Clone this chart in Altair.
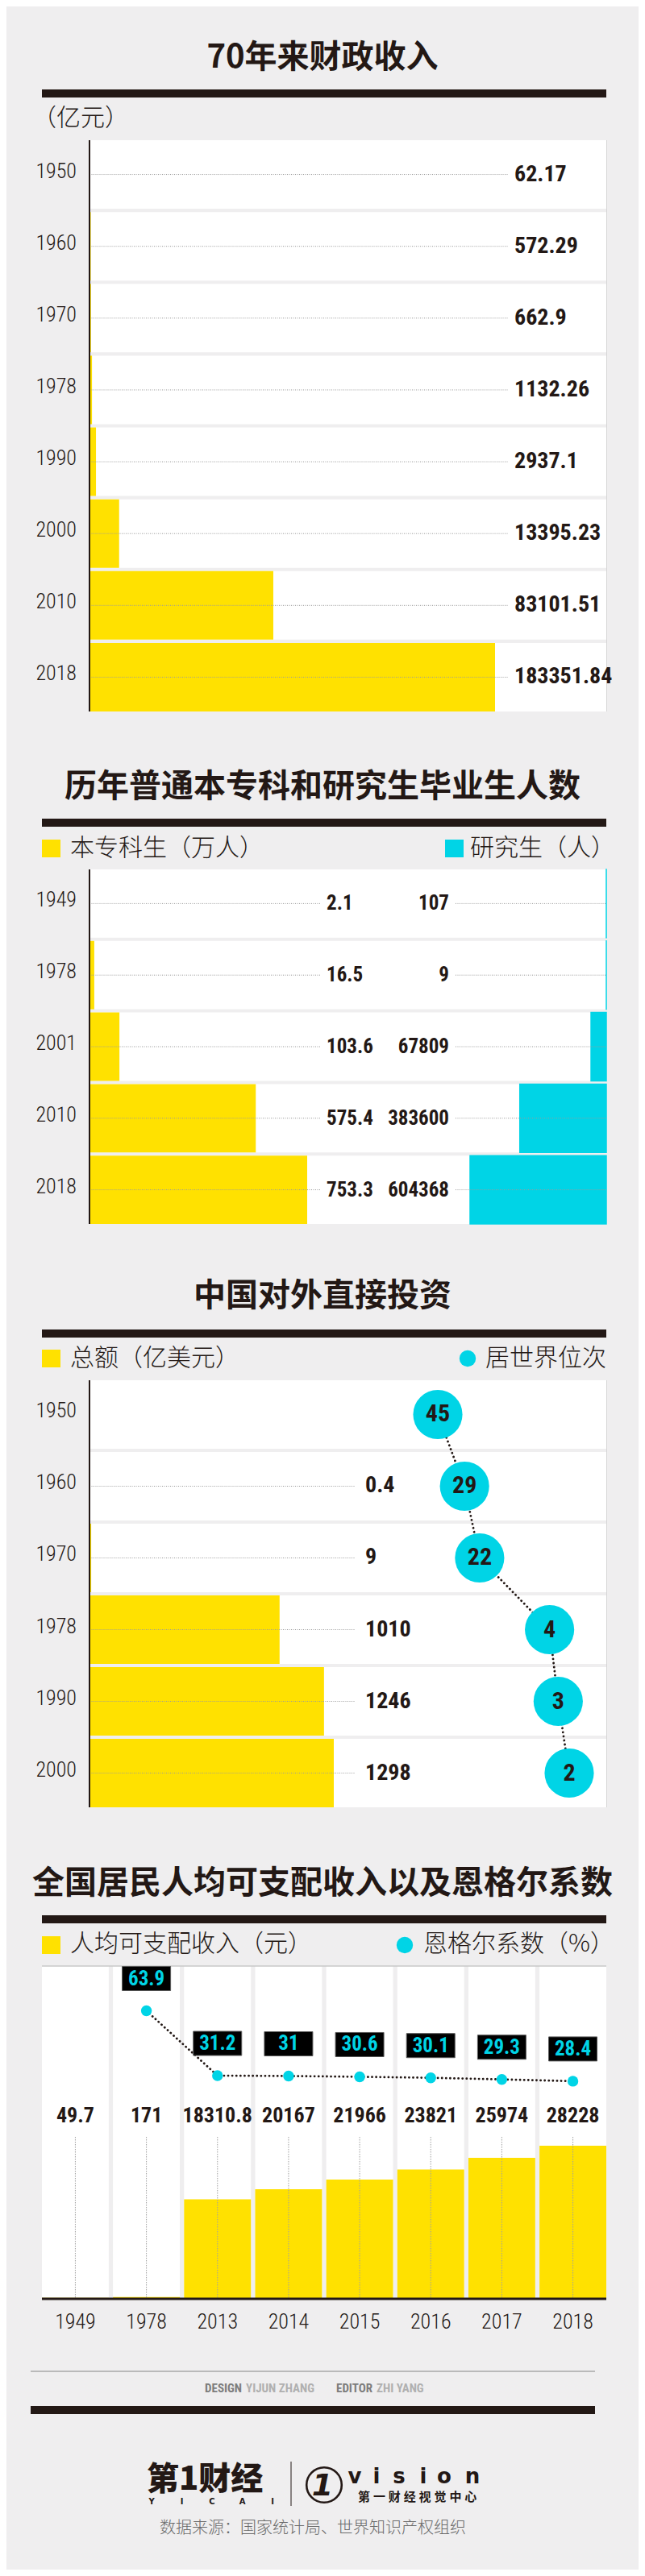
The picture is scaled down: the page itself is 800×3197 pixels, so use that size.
import altair as alt
import pandas as pd

# ---------------- data ----------------
s1_title = "70年来财政收入"
s1_unit = "（亿元）"
s1_years = ["1950", "1960", "1970", "1978", "1990", "2000", "2010", "2018"]
s1_revenue = [62.17, 572.29, 662.9, 1132.26, 2937.1, 13395.23, 83101.51, 183351.84]
s1_labels = ["62.17", "572.29", "662.9", "1132.26", "2937.1", "13395.23", "83101.51", "183351.84"]

s2_title = "历年普通本专科和研究生毕业生人数"
s2_legend = ["本专科生（万人）", "研究生（人）"]
s2_years = ["1949", "1978", "2001", "2010", "2018"]
s2_undergrad = [2.1, 16.5, 103.6, 575.4, 753.3]
s2_undergrad_labels = ["2.1", "16.5", "103.6", "575.4", "753.3"]
s2_postgrad = [107, 9, 67809, 383600, 604368]
s2_postgrad_labels = ["107", "9", "67809", "383600", "604368"]

s3_title = "中国对外直接投资"
s3_legend = ["总额（亿美元）", "居世界位次"]
s3_years = ["1950", "1960", "1970", "1978", "1990", "2000"]
s3_amount = [None, 0.4, 9, 1010, 1246, 1298]
s3_amount_labels = ["", "0.4", "9", "1010", "1246", "1298"]
s3_rank = [45, 29, 22, 4, 3, 2]

s4_title = "全国居民人均可支配收入以及恩格尔系数"
s4_legend = ["人均可支配收入（元）", "恩格尔系数（%）"]
s4_years = ["1949", "1978", "2013", "2014", "2015", "2016", "2017", "2018"]
s4_income = [49.7, 171, 18310.8, 20167, 21966, 23821, 25974, 28228]
s4_income_labels = ["49.7", "171", "18310.8", "20167", "21966", "23821", "25974", "28228"]
s4_engel = [None, 63.9, 31.2, 31, 30.6, 30.1, 29.3, 28.4]
s4_engel_labels = ["", "63.9", "31.2", "31", "30.6", "30.1", "29.3", "28.4"]

credit_parts = ["DESIGN", "YIJUN ZHANG", "EDITOR", "ZHI YANG"]
logo_main = "第1财经"
logo_sub = ["Y", "I", "C", "A", "I"]
vision_letters = ["v", "i", "s", "i", "o", "n"]
vision_sub = list("第一财经视觉中心")
source_text = "数据来源：国家统计局、世界知识产权组织"

# ---------------- style ----------------
BG = "#EFEEEF"
YELLOW = "#FFE100"
CYAN = "#00D4E6"
INK = "#231815"
DOT = "#9b9b9b"
CJK = "Noto Sans CJK SC"
NUM = "Roboto Condensed, Roboto, sans-serif"

W, H = 784, 3181


def P(v):
    return v - 8


ONE = alt.Data(values=[{"k": 1}])


def text_at(t, x, y, size, weight="normal", color=INK, align="left", font=CJK, baseline="middle", **kw):
    return alt.Chart(ONE).mark_text(
        text=t, align=align, baseline=baseline, font=font, fontSize=size,
        fontWeight=weight, color=color, **kw
    ).encode(x=alt.value(P(x)), y=alt.value(P(y)))


def rect_at(x1, x2, y1, y2, color):
    return alt.Chart(ONE).mark_rect(color=color).encode(
        x=alt.value(P(x1)), x2=alt.value(P(x2)), y=alt.value(P(y1)), y2=alt.value(P(y2)))


def hline(x1, x2, y, color, w):
    return alt.Chart(ONE).mark_rule(color=color, strokeWidth=w).encode(
        x=alt.value(P(x1)), x2=alt.value(P(x2)), y=alt.value(P(y)))


def vline(x, y1, y2, color, w):
    return alt.Chart(ONE).mark_rule(color=color, strokeWidth=w).encode(
        x=alt.value(P(x)), y=alt.value(P(y1)), y2=alt.value(P(y2)))


def header(title, ty, by):
    return [text_at(title, 400, ty, 40, weight="bold", align="center"),
            rect_at(52, 752, by, by + 10, INK)]


def band_y(years, top, bottom, center=False):
    kw = dict(sort=None, axis=None,
              scale=alt.Scale(type="band", domain=years, range=[P(top), P(bottom)],
                              paddingInner=0.045, paddingOuter=0))
    if center:
        kw["bandPosition"] = 0.5
    return alt.Y("year:N", **kw)


YEAR_STYLE = dict(align="right", baseline="middle", font=NUM, fontSize=26, fontWeight=300, color=INK, dy=-4)
VAL_STYLE = dict(baseline="middle", font=NUM, fontSize=28, fontWeight="bold", color=INK)
VAL_STYLE_S = dict(baseline="middle", font=NUM, fontSize=25, fontWeight="bold", color=INK)

layers = []

# ---------------- section 1 ----------------
df1 = pd.DataFrame({"year": s1_years, "value": s1_revenue, "label": s1_labels})
b1 = alt.Chart(df1)
Y1, Y1c = band_y(s1_years, 174, 883), band_y(s1_years, 174, 883, True)
X1 = alt.X("value:Q", axis=None,
           scale=alt.Scale(domain=[0, max(s1_revenue)], range=[P(111), P(614)], nice=False, zero=True))
layers += header(s1_title, 72, 111)
layers += [
    text_at(s1_unit, 40, 147, 30, weight=300),
    b1.mark_rect(color="white").encode(y=Y1, x=alt.value(P(111)), x2=alt.value(P(752))),
    b1.mark_bar(color=YELLOW).encode(y=Y1, x=X1),
    b1.mark_rule(color=DOT, strokeDash=[1, 1.5], strokeWidth=1).encode(
        y=Y1c, x=alt.value(P(111)), x2=alt.value(P(630))),
    vline(111, 174, 883, INK, 2),
    vline(752.5, 174, 883, "#d5d5d5", 1),
    b1.mark_text(**YEAR_STYLE).encode(y=Y1c, x=alt.value(P(95)), text="year:N"),
    b1.mark_text(align="left", **VAL_STYLE).encode(y=Y1c, x=alt.value(P(638)), text="label:N"),
]

# ---------------- section 2 ----------------
df2 = pd.DataFrame({"year": s2_years, "ug": s2_undergrad, "ugl": s2_undergrad_labels,
                    "pg": s2_postgrad, "pgl": s2_postgrad_labels})
b2 = alt.Chart(df2)
Y2, Y2c = band_y(s2_years, 1079, 1519), band_y(s2_years, 1079, 1519, True)
X2a = alt.X("ug:Q", axis=None,
            scale=alt.Scale(domain=[0, max(s2_undergrad)], range=[P(111), P(381)], nice=False, zero=True))
X2b = alt.X("pg:Q", axis=None,
            scale=alt.Scale(domain=[0, max(s2_postgrad)], range=[P(752), P(583)], nice=False, zero=True))
layers += header(s2_title, 977, 1016)
layers += [
    rect_at(52, 75, 1042, 1064, YELLOW),
    text_at(s2_legend[0], 87, 1053, 30, weight=300),
    rect_at(552, 575, 1042, 1064, CYAN),
    text_at(s2_legend[1], 583, 1053, 30, weight=300),
    b2.mark_rect(color="white").encode(y=Y2, x=alt.value(P(111)), x2=alt.value(P(752))),
    b2.mark_bar(color=YELLOW).encode(y=Y2, x=X2a),
    b2.mark_bar(color=CYAN, stroke=CYAN, strokeWidth=1.5).encode(y=Y2, x=X2b),
    b2.mark_rule(color=DOT, strokeDash=[1, 1.5], strokeWidth=1).encode(
        y=Y2c, x=alt.value(P(111)), x2=alt.value(P(398))),
    b2.mark_rule(color=DOT, strokeDash=[1, 1.5], strokeWidth=1).encode(
        y=Y2c, x=alt.value(P(565)), x2=alt.value(P(752))),
    vline(111, 1079, 1519, INK, 2),
    b2.mark_text(**YEAR_STYLE).encode(y=Y2c, x=alt.value(P(95)), text="year:N"),
    b2.mark_text(align="left", **VAL_STYLE_S).encode(y=Y2c, x=alt.value(P(405)), text="ugl:N"),
    b2.mark_text(align="right", **VAL_STYLE_S).encode(y=Y2c, x=alt.value(P(557)), text="pgl:N"),
]

# ---------------- section 3 ----------------
df3 = pd.DataFrame({"year": s3_years, "amount": s3_amount, "al": s3_amount_labels, "rank": s3_rank})
b3 = alt.Chart(df3)
b3v = b3.transform_filter("isValid(datum.amount)")
Y3, Y3c = band_y(s3_years, 1713, 2243), band_y(s3_years, 1713, 2243, True)
X3a = alt.X("amount:Q", axis=None,
            scale=alt.Scale(domain=[0, 1298], range=[P(111), P(414)], nice=False, zero=True))
X3r = alt.X("rank:Q", axis=None,
            scale=alt.Scale(type="pow", exponent=0.3, domain=[max(s3_rank), min(s3_rank)],
                            range=[P(543), P(706)], nice=False, zero=False))
layers += header(s3_title, 1609, 1650)
layers += [
    rect_at(52, 75, 1675, 1697, YELLOW),
    text_at(s3_legend[0], 87, 1686, 30, weight=300),
    alt.Chart(ONE).mark_circle(size=415, color=CYAN, opacity=1).encode(
        x=alt.value(P(580)), y=alt.value(P(1686))),
    text_at(s3_legend[1], 602, 1686, 30, weight=300),
    b3.mark_rect(color="white").encode(y=Y3, x=alt.value(P(111)), x2=alt.value(P(752))),
    b3v.mark_bar(color=YELLOW).encode(y=Y3, x=X3a),
    b3v.mark_rule(color=DOT, strokeDash=[1, 1.5], strokeWidth=1).encode(
        y=Y3c, x=alt.value(P(111)), x2=alt.value(P(440))),
    vline(111, 1713, 2243, INK, 2),
    vline(752.5, 1713, 2243, "#d5d5d5", 1),
    b3.mark_text(**YEAR_STYLE).encode(y=Y3c, x=alt.value(P(95)), text="year:N"),
    b3v.mark_text(align="left", **VAL_STYLE).encode(y=Y3c, x=alt.value(P(453)), text="al:N"),
    b3.mark_line(color=INK, strokeDash=[0.1, 5], strokeWidth=2.8, strokeCap="round").encode(
        y=Y3c, x=X3r, order=alt.Order("year:N")),
    b3.mark_circle(size=3739, color=CYAN, opacity=1).encode(y=Y3c, x=X3r),
    b3.mark_text(align="center", baseline="middle", font=NUM, fontSize=30, fontWeight="bold", color=INK).encode(
        y=Y3c, x=X3r, text="rank:Q"),
]

# ---------------- section 4 ----------------
df4 = pd.DataFrame({"year": s4_years, "income": s4_income, "il": s4_income_labels,
                    "engel": s4_engel, "el": s4_engel_labels})
b4 = alt.Chart(df4)
b4v = b4.transform_filter("isValid(datum.engel)")


def band_x4(center=False):
    kw = dict(sort=None, axis=None,
              scale=alt.Scale(type="band", domain=s4_years, range=[P(52), P(752)],
                              paddingInner=0.06, paddingOuter=0))
    if center:
        kw["bandPosition"] = 0.5
    return alt.X("year:N", **kw)


X4, X4c = band_x4(), band_x4(True)
Y4i = alt.Y("income:Q", axis=None,
            scale=alt.Scale(domain=[0, max(s4_income)], range=[P(2852), P(2663)], nice=False, zero=True))
Y4e = alt.Y("engel:Q", axis=None,
            scale=alt.Scale(domain=[0, 63.9], range=[P(2652.8), P(2495.5)], nice=False, zero=True))
layers += header(s4_title, 2338, 2377)
layers += [
    rect_at(52, 75, 2403, 2425, YELLOW),
    text_at(s4_legend[0], 87, 2413, 30, weight=300),
    alt.Chart(ONE).mark_circle(size=415, color=CYAN, opacity=1).encode(
        x=alt.value(P(502)), y=alt.value(P(2414))),
    text_at(s4_legend[1], 525, 2413, 30, weight=300),
    b4.mark_rect(color="white").encode(x=X4, y=alt.value(P(2440)), y2=alt.value(P(2852))),
    hline(52, 752, 2440, "#c8c8c8", 1.5),
    b4.mark_bar(color=YELLOW).encode(x=X4, y=Y4i),
    b4.mark_rule(color="#a0a0a0", strokeDash=[1.5, 1.5], strokeWidth=1).encode(
        x=X4c, y=alt.value(P(2652)), y2=alt.value(P(2852))),
    hline(52, 752, 2853, INK, 3),
    b4.mark_text(align="center", baseline="middle", font=NUM, fontSize=26, fontWeight="bold", color=INK).encode(
        x=X4c, y=alt.value(P(2626)), text="il:N"),
    b4.mark_text(align="center", baseline="middle", font=NUM, fontSize=26, fontWeight=300, color=INK).encode(
        x=X4c, y=alt.value(P(2882)), text="year:N"),
    b4v.mark_line(color=INK, strokeDash=[0.1, 5], strokeWidth=2.8, strokeCap="round").encode(
        x=X4c, y=Y4e),
    b4v.mark_circle(size=180, color=CYAN, opacity=1).encode(x=X4c, y=Y4e),
    b4v.mark_point(shape="M-1,-0.5L1,-0.5L1,0.5L-1,0.5Z", size=3600, filled=True, fill="#000000",
                   stroke="#5a5a5a", strokeWidth=1, opacity=1, yOffset=-40).encode(x=X4c, y=Y4e),
    b4v.mark_text(align="center", baseline="middle", font=NUM, fontSize=25, fontWeight="bold",
                  color=CYAN, dy=-40).encode(x=X4c, y=Y4e, text="el:N"),
]

# ---------------- footer ----------------
layers += [
    hline(38, 738, 2943, "#a8a8a8", 1.5),
    text_at(credit_parts[0], 300, 2964, 15, weight="bold", color="#7d7d7d", align="right", font=NUM),
    text_at(credit_parts[1], 305, 2964, 15, weight="bold", color="#b0b0b0", align="left", font=NUM),
    text_at(credit_parts[2], 462, 2964, 15, weight="bold", color="#7d7d7d", align="right", font=NUM),
    text_at(credit_parts[3], 467, 2964, 15, weight="bold", color="#b0b0b0", align="left", font=NUM),
    rect_at(38, 738, 2986, 2996, INK),
    text_at(logo_main, 182, 3078, 40, weight=900, color=INK),
    vline(361, 3055, 3110, INK, 1),
    alt.Chart(ONE).mark_point(shape="circle", size=1900, filled=False, stroke=INK, strokeWidth=2.6,
                              opacity=1).encode(x=alt.value(P(402)), y=alt.value(P(3084))),
    text_at("1", 400, 3086, 38, weight="bold", color=INK, align="center", font="DejaVu Sans",
            fontStyle="italic"),
    text_at(source_text, 388, 3138, 20, weight=300, color="#6a6a6a", align="center"),
]
for i, ch in enumerate(logo_sub):
    layers.append(text_at(ch, 188 + 37.5 * i, 3105, 10, weight="bold", color=INK, align="center",
                          font="DejaVu Sans"))
for ch, cx in zip(vision_letters, [440, 467, 495, 525, 551, 586]):
    layers.append(text_at(ch, cx, 3082, 26, weight="bold", color=INK, align="center",
                          font="DejaVu Sans", baseline="alphabetic"))
for i, ch in enumerate(vision_sub):
    layers.append(text_at(ch, 451.5 + 18.9 * i, 3099, 15, weight="bold", color=INK, align="center"))

chart = alt.layer(*layers).resolve_scale(
    x="independent", y="independent"
).properties(
    width=W, height=H, padding=0, background=BG,
    autosize=alt.AutoSizeParams(type="none"),
).configure_view(stroke=None)

chart.save("out.html", embed_options={"renderer": "svg", "actions": False})
